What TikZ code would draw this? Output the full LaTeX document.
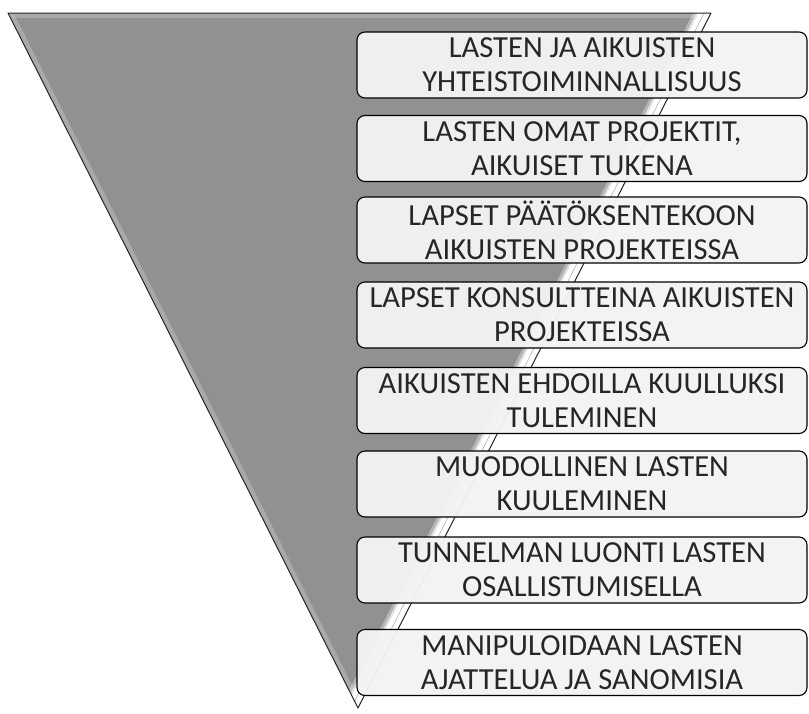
\documentclass[tikz,border=0pt]{standalone}
\usepackage{fontspec}
\setmainfont{Carlito}
\definecolor{trigray}{HTML}{919191}
\definecolor{bevel}{HTML}{B4B4B4}
\definecolor{boxfill}{HTML}{F3F3F3}
\definecolor{txt}{HTML}{262626}
\tikzset{
  levelbox/.style={draw=black, line width=1.1pt, rounded corners=8pt, fill=boxfill, fill opacity=0.96, text opacity=1,
    minimum width=450pt, minimum height=66pt, inner sep=0pt, align=center, text=txt,
    font=\fontsize{30.6}{34}\selectfont}
}
\begin{document}
\begin{tikzpicture}[x=1pt,y=-1pt]
\useasboundingbox (0,0) rectangle (809,713);
% funnel triangle
\coordinate (tl) at (8,13);
\coordinate (tr) at (711,13);
\coordinate (tip) at (358,708);
\fill[trigray] (tl) -- (tr) -- (tip) -- cycle;
\begin{scope}
  \clip (tl) -- (tr) -- (tip) -- cycle;
  \draw[bevel, line width=10pt, opacity=0.7] (tl) -- (tr);
  \draw[bevel, line width=10pt, opacity=0.7] (tl) -- (tip);
  \draw[white, line width=32pt, opacity=0.35] (tr) -- (tip);
  \draw[white, line width=26pt, opacity=0.6] (tr) -- (tip);
  \draw[white, line width=22pt] (tr) -- (tip);
  \draw[black!30, line width=0.6pt] (705.6,10.3) -- (352.6,705.3);
\end{scope}
\draw[black!85, line width=1pt, line join=round] (tl) -- (tr) -- (tip) -- cycle;
% boxes
\node[levelbox] (b1) at (582,65)    {LASTEN JA AIKUISTEN\\YHTEISTOIMINNALLISUUS};
\node[levelbox] (b2) at (582,148.5) {LASTEN OMAT PROJEKTIT,\\AIKUISET TUKENA};
\node[levelbox] (b3) at (582,230)   {LAPSET PÄÄTÖKSENTEKOON\\AIKUISTEN PROJEKTEISSA};
\node[levelbox] (b4) at (582,315)   {LAPSET KONSULTTEINA AIKUISTEN\\PROJEKTEISSA};
\node[levelbox] (b5) at (582,400.5) {AIKUISTEN EHDOILLA KUULLUKSI\\TULEMINEN};
\node[levelbox] (b6) at (582,484)   {MUODOLLINEN LASTEN\\KUULEMINEN};
\node[levelbox] (b7) at (582,570)   {TUNNELMAN LUONTI LASTEN\\OSALLISTUMISELLA};
\node[levelbox] (b8) at (582,662.5) {MANIPULOIDAAN LASTEN\\AJATTELUA JA SANOMISIA};
\end{tikzpicture}
\end{document}
